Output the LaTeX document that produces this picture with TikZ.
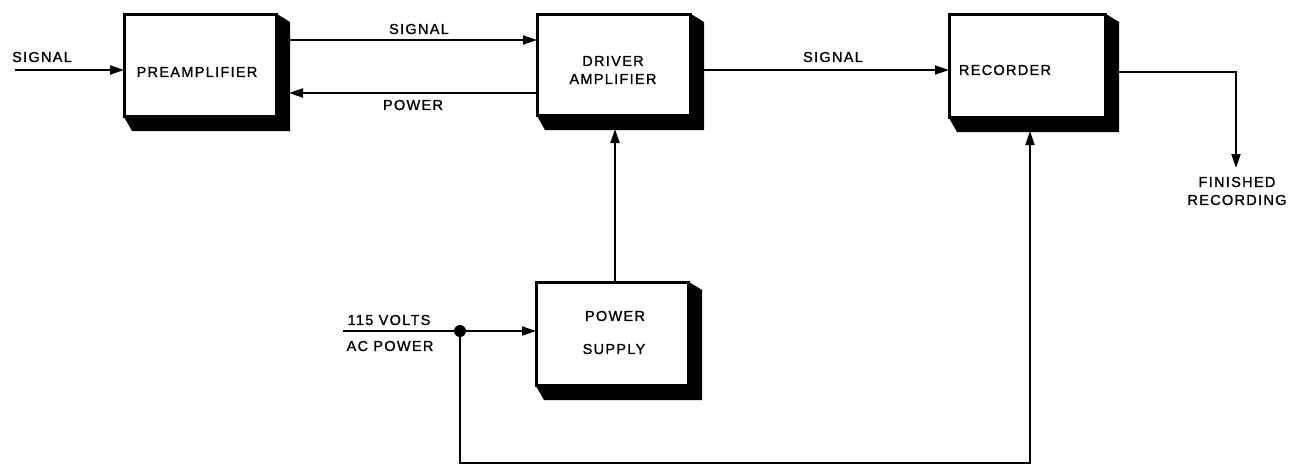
\documentclass[tikz,border=0pt]{standalone}
\usepackage{fontspec}
\setmainfont{Liberation Sans}[LetterSpace=9,FakeBold=1.2]
\usetikzlibrary{arrows.meta,calc}
\tikzset{
  blk/.style={draw=black,line width=2pt,fill=white,minimum width=#1,inner sep=0pt},
  wire/.style={line width=2pt},
  arr/.style={wire,-{Triangle[length=14pt,width=9pt]}},
  lbl/.style={font=\fontsize{14.5}{17}\selectfont,inner sep=0pt,align=center},
  dot/.style={circle,fill=black,inner sep=0pt,minimum size=12pt}
}
\newcommand{\shadowbox}[1]{%
  \fill[black] (#1.north east) -- ++(13,8) -- ($(#1.south east)+(13,14)$) -- ($(#1.south west)+(8,14)$) -- (#1.south west) -- (#1.south east) -- cycle;
  \draw[line width=2.2pt] (#1.north west) rectangle (#1.south east);
}
\begin{document}
\begin{tikzpicture}[x=1pt,y=-1pt]
\useasboundingbox (0,0) rectangle (1289,466);
% boxes
\node[blk=151pt,minimum height=101pt] (pre) at (200.5,65.5) {};
\node[blk=152pt,minimum height=100pt] (drv) at (614,65) {};
\node[blk=155pt,minimum height=102pt] (rec) at (1027.5,66) {};
\node[blk=151pt,minimum height=102pt] (psu) at (612.5,334) {};
\shadowbox{pre}
\shadowbox{drv}
\shadowbox{rec}
\shadowbox{psu}
% box texts
\node[lbl] (tpre) at (197,72) {PREAMPLIFIER};
\node[lbl] (tdrv) at (613,70) {DRIVER\\[1pt]AMPLIFIER};
\node[lbl] (trec) at (1005,70) {RECORDER};
\node[lbl] (tpsu1) at (615,316) {POWER};
\node[lbl] (tpsu2) at (614,349) {SUPPLY};
% coordinates
\coordinate (in) at (15,70);
\coordinate (preR) at (289,0);
\coordinate (drvR) at (704,70);
\coordinate (drvB) at (615,129);
\coordinate (recR) at (1119,72);
\coordinate (recB) at (1030,131);
\coordinate (outc) at (1236,72);
\coordinate (outend) at (1236,168);
\coordinate (acin) at (343,331);
\coordinate (bl) at (460,463);
% connectors
\draw[arr] (in) -- (in -| pre.west);
\draw[arr] (preR |- 0,40) -- (drv.west |- 0,40);
\draw[arr] (drv.west |- 0,93) -- (preR |- 0,93);
\draw[arr] (drvR) -- (drvR -| rec.west);
\draw[arr] (recR) -- (outc) -- (outend);
\draw[arr] (psu.north -| drvB) -- (drvB);
\node[dot] (j) at (460,331) {};
\draw[wire] (acin) -- (j);
\draw[arr] (j) -- (j -| psu.west);
\draw[arr] (j) -- (bl) -- (bl -| recB) -- (recB);
% labels
\node[lbl] (lsig1) at (42,57) {SIGNAL};
\node[lbl] (lsig2) at (419,29) {SIGNAL};
\node[lbl] (lpow) at (413,105) {POWER};
\node[lbl] (lsig3) at (833,57) {SIGNAL};
\node[lbl] (lvolt) at (389,320) {115 VOLTS};
\node[lbl] (lac) at (390,346) {AC POWER};
\node[lbl] (lfin) at (1237,191) {FINISHED\\[1pt]RECORDING};
\end{tikzpicture}
\end{document}
